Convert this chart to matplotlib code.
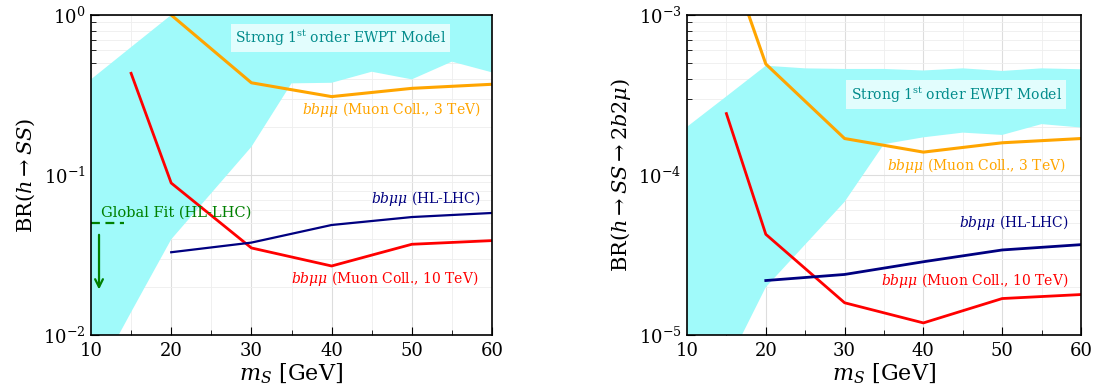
import numpy as np
import matplotlib
matplotlib.use("Agg")
import matplotlib.pyplot as plt

plt.rcParams['font.family'] = 'DejaVu Serif'
plt.rcParams['mathtext.fontset'] = 'dejavuserif'

# ---------------- data ----------------
ms = [20, 30, 40, 50, 60]
ms_mc = [15, 20, 30, 40, 50, 60]

# Left panel: BR(h -> SS)
L_mc3 = [1.0, 0.377, 0.309, 0.348, 0.369]           # at ms
L_mc10 = [0.432, 0.0891, 0.035, 0.027, 0.0369, 0.0389]  # at ms_mc
L_hl = [0.0329, 0.0378, 0.0487, 0.0546, 0.0579]      # at ms

band_L_x_up = [10, 15, 20, 30, 40, 50, 60]
band_L_up = [0.396, 0.63, 1.0, 2.0, 2.0, 2.0, 2.0]
band_L_x_lo = [10, 15, 20, 30, 35, 40, 45, 50, 55, 60]
band_L_lo = [0.0048, 0.0139, 0.0396, 0.150, 0.374, 0.377, 0.442, 0.396, 0.511, 0.438]

# Right panel: BR(h -> SS -> 2b2mu)
R_mc3_x = [15, 20, 30, 40, 50, 60]
R_mc3 = [2.5e-3, 4.94e-4, 1.69e-4, 1.39e-4, 1.59e-4, 1.69e-4]
R_mc10 = [2.42e-4, 4.26e-5, 1.59e-5, 1.19e-5, 1.69e-5, 1.79e-5]
R_hl = [2.19e-5, 2.39e-5, 2.87e-5, 3.40e-5, 3.67e-5]

band_R_x_up = [10, 15, 20, 25, 30, 35, 40, 45, 50, 55, 60]
band_R_up = [2.0e-4, 3.1e-4, 4.82e-4, 4.64e-4, 4.6e-4, 4.6e-4, 4.5e-4, 4.64e-4, 4.47e-4, 4.64e-4, 4.58e-4]
band_R_x_lo = [10, 15, 20, 30, 35, 40, 45, 50, 55, 60]
band_R_lo = [2.0e-6, 6.4e-6, 1.99e-5, 6.8e-5, 1.56e-4, 1.72e-4, 1.84e-4, 1.78e-4, 2.08e-4, 1.98e-4]

global_fit = 0.05

C_OR = '#FFA500'
C_RED = '#FF0000'
C_NAVY = '#000080'
C_BAND = '#A0FAFA'
C_TEAL = '#008B8B'
C_GREEN = '#008000'

fig = plt.figure(figsize=(10.95, 3.91), dpi=100)
axL = fig.add_axes([91/1095, 1-335/391, 401/1095, 320/391])
axR = fig.add_axes([687/1095, 1-335/391, 394/1095, 320/391])


def band(ax, xu, yu, xl, yl):
    px = list(xu) + list(xl[::-1])
    py = list(yu) + list(yl[::-1])
    ax.fill(px, py, color=C_BAND, lw=0, zorder=1)


def style(ax, ylo, yhi):
    ax.set_xlim(10, 60)
    ax.set_yscale('log')
    ax.set_ylim(ylo, yhi)
    ax.set_xticks([10, 20, 30, 40, 50, 60])
    ax.set_xticks([15, 25, 35, 45, 55], minor=True)
    ax.tick_params(which='both', direction='in', labelsize=13, top=False, right=False)
    ax.tick_params(axis='x', which='major', pad=5)
    ax.tick_params(axis='y', which='major', pad=4)
    ax.tick_params(which='major', length=6)
    ax.tick_params(which='minor', length=3.5)
    ax.grid(True, which='major', color='#dddddd', lw=0.8, zorder=0)
    ax.grid(True, which='minor', color='#eeeeee', lw=0.6, zorder=0)
    ax.set_axisbelow(True)
    ax.set_xlabel(r'$m_S$ [GeV]', fontsize=16, labelpad=1)
    for s in ax.spines.values():
        s.set_linewidth(1.2)
        s.set_zorder(5)


# ---- left ----
band(axL, band_L_x_up, band_L_up, band_L_x_lo, band_L_lo)
axL.plot(ms, L_mc3, color=C_OR, lw=2.2, zorder=3)
axL.plot(ms_mc, L_mc10, color=C_RED, lw=2.0, zorder=3)
axL.plot(ms, L_hl, color=C_NAVY, lw=1.6, zorder=3)
axL.plot([10, 14.06], [global_fit, global_fit], color=C_GREEN, lw=1.6, ls=(0, (4, 2.5)), zorder=4)
axL.annotate('', xy=(11.0, 0.0185), xytext=(11.0, 0.0440),
             arrowprops=dict(arrowstyle='->', color=C_GREEN, lw=1.6, mutation_scale=14), zorder=4)
axL.text(11.2, 0.0585, 'Global Fit (HL-LHC)', color=C_GREEN, fontsize=10.5, va='center', ha='left', zorder=4)
axL.text(41.1, 0.718, r'Strong 1$^{\rm st}$ order EWPT Model', color=C_TEAL, fontsize=10,
         ha='center', va='center', zorder=4,
         bbox=dict(facecolor='white', alpha=0.7, edgecolor='none', pad=3))
axL.text(58.6, 0.255, r'$bb\mu\mu$ (Muon Coll., 3 TeV)', color=C_OR, fontsize=10, ha='right', va='center', zorder=4)
axL.text(58.6, 0.0715, r'$bb\mu\mu$ (HL-LHC)', color=C_NAVY, fontsize=10, ha='right', va='center', zorder=4)
axL.text(58.3, 0.0227, r'$bb\mu\mu$ (Muon Coll., 10 TeV)', color=C_RED, fontsize=10, ha='right', va='center', zorder=4)
style(axL, 1e-2, 1.0)
axL.set_ylabel(r'BR$(h\rightarrow SS)$', fontsize=15, labelpad=4)

# ---- right ----
band(axR, band_R_x_up, band_R_up, band_R_x_lo, band_R_lo)
axR.plot(R_mc3_x, R_mc3, color=C_OR, lw=2.2, zorder=3)
axR.plot(ms_mc, R_mc10, color=C_RED, lw=2.0, zorder=3)
axR.plot(ms, R_hl, color=C_NAVY, lw=2.0, zorder=3)
axR.text(44.15, 3.19e-4, r'Strong 1$^{\rm st}$ order EWPT Model', color=C_TEAL, fontsize=10,
         ha='center', va='center', zorder=4,
         bbox=dict(facecolor='white', alpha=0.7, edgecolor='none', pad=3))
axR.text(58.0, 1.14e-4, r'$bb\mu\mu$ (Muon Coll., 3 TeV)', color=C_OR, fontsize=10, ha='right', va='center', zorder=4)
axR.text(58.5, 5.03e-5, r'$bb\mu\mu$ (HL-LHC)', color=C_NAVY, fontsize=10, ha='right', va='center', zorder=4)
axR.text(58.4, 2.18e-5, r'$bb\mu\mu$ (Muon Coll., 10 TeV)', color=C_RED, fontsize=10, ha='right', va='center', zorder=4)
style(axR, 1e-5, 1e-3)
axR.set_ylabel(r'BR$(h\rightarrow SS\rightarrow 2b2\mu)$', fontsize=15, labelpad=4)

fig.savefig('out.png', dpi=100)
